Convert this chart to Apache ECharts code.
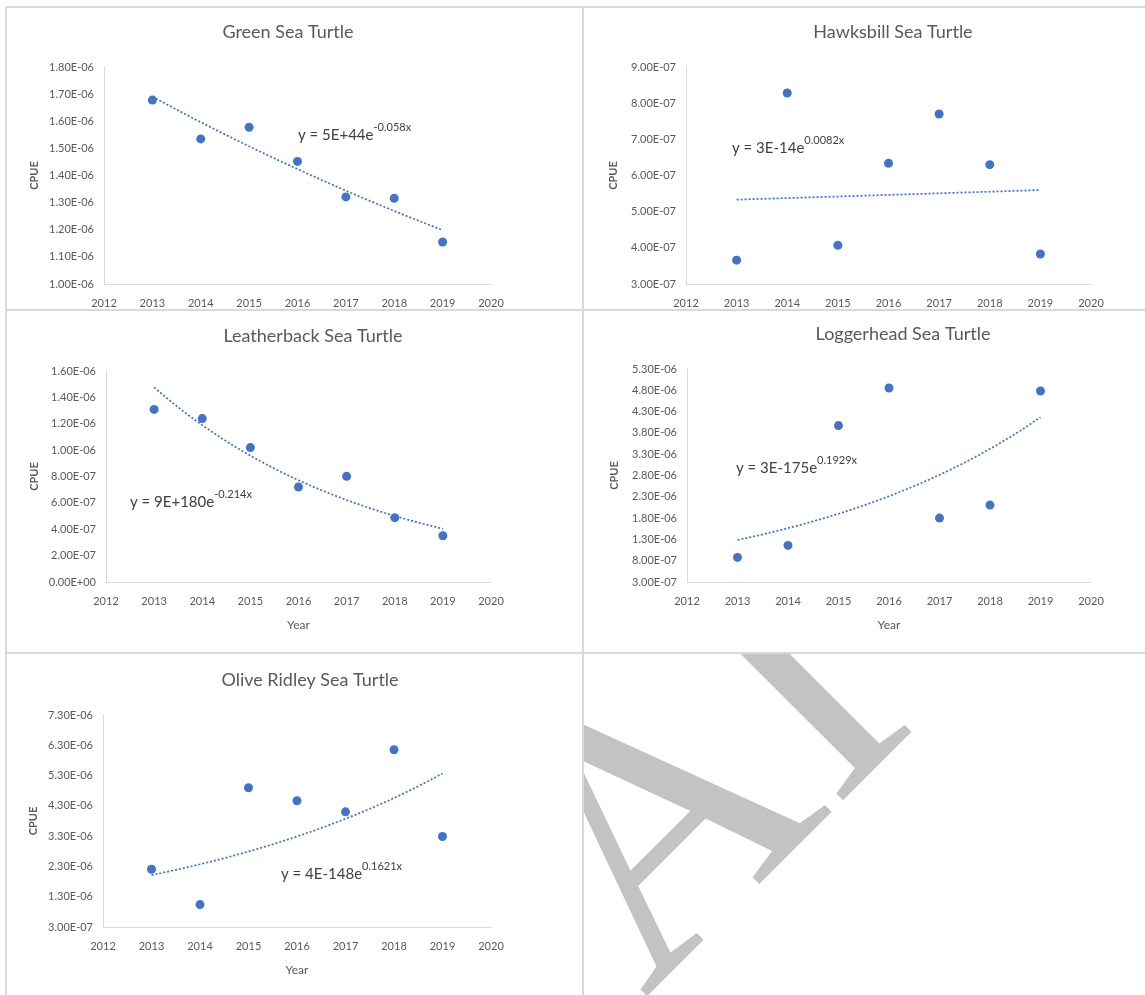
<!DOCTYPE html>
<html>
<head>
<meta charset="utf-8">
<title>Sea Turtle CPUE</title>
<script src="https://cdn.jsdelivr.net/npm/echarts@6/dist/echarts.min.js"></script>
<style>
  html, body { margin: 0; padding: 0; background: #ffffff; }
  #chart { position: absolute; left: 0; top: 0; width: 1145px; height: 995px; }
  #mark { position: absolute; left: 584px; top: 654px; width: 561px; height: 341px; overflow: hidden; }
</style>
</head>
<body>
<div id="chart"></div>
<div id="mark"></div>
<script>
// ---- data ----
const years = [2013, 2014, 2015, 2016, 2017, 2018, 2019];
const yearTicks = [2012, 2013, 2014, 2015, 2016, 2017, 2018, 2019, 2020];

const greenCPUE       = [1.678e-6, 1.535e-6, 1.578e-6, 1.452e-6, 1.321e-6, 1.316e-6, 1.155e-6];
const hawksbillCPUE   = [3.66e-7, 8.28e-7, 4.07e-7, 6.34e-7, 7.70e-7, 6.30e-7, 3.83e-7];
const leatherbackCPUE = [1.309e-6, 1.239e-6, 1.019e-6, 7.20e-7, 8.01e-7, 4.88e-7, 3.51e-7];
const loggerheadCPUE  = [8.78e-7, 1.159e-6, 3.972e-6, 4.855e-6, 1.80e-6, 2.105e-6, 4.784e-6];
const oliveRidleyCPUE = [2.207e-6, 1.039e-6, 4.897e-6, 4.467e-6, 4.103e-6, 6.154e-6, 3.287e-6];

const greenTicks       = [1.0e-6, 1.1e-6, 1.2e-6, 1.3e-6, 1.4e-6, 1.5e-6, 1.6e-6, 1.7e-6, 1.8e-6];
const hawksbillTicks   = [3.0e-7, 4.0e-7, 5.0e-7, 6.0e-7, 7.0e-7, 8.0e-7, 9.0e-7];
const leatherbackTicks = [0, 2.0e-7, 4.0e-7, 6.0e-7, 8.0e-7, 1.0e-6, 1.2e-6, 1.4e-6, 1.6e-6];
const loggerheadTicks  = [3.0e-7, 8.0e-7, 1.3e-6, 1.8e-6, 2.3e-6, 2.8e-6, 3.3e-6, 3.8e-6, 4.3e-6, 4.8e-6, 5.3e-6];
const oliveRidleyTicks = [3.0e-7, 1.3e-6, 2.3e-6, 3.3e-6, 4.3e-6, 5.3e-6, 6.3e-6, 7.3e-6];

const titles = ['Green Sea Turtle', 'Hawksbill Sea Turtle', 'Leatherback Sea Turtle',
                'Loggerhead Sea Turtle', 'Olive Ridley Sea Turtle'];
const equationBase = ['y = 5E+44e', 'y = 3E-14e', 'y = 9E+180e', 'y = 3E-175e', 'y = 4E-148e'];
const equationExp  = ['-0.058x', '0.0082x', '-0.214x', '0.1929x', '0.1621x'];

// ---- layout and style ----
const FONT = 'Lato, "Open Sans", sans-serif';
const TEXT = '#595959';
const LINE = '#d9d9d9';
const BLUE = '#4472c4';

const panels = [
  { values: greenCPUE,       ticks: greenTicks,       grid: { left: 104, top: 67,  width: 387, height: 217 }, title: [288, 32],  eq: [298, 132], nameGap: 64, year: false },
  { values: hawksbillCPUE,   ticks: hawksbillTicks,   grid: { left: 686, top: 67,  width: 405, height: 217 }, title: [893, 32],  eq: [732, 145], nameGap: 67, year: false },
  { values: leatherbackCPUE, ticks: leatherbackTicks, grid: { left: 106, top: 371, width: 385, height: 211 }, title: [313, 336], eq: [130, 499], nameGap: 66, year: true },
  { values: loggerheadCPUE,  ticks: loggerheadTicks,  grid: { left: 687, top: 369, width: 404, height: 213 }, title: [903, 334], eq: [736, 465], nameGap: 67, year: true },
  { values: oliveRidleyCPUE, ticks: oliveRidleyTicks, grid: { left: 103, top: 715, width: 388, height: 212 }, title: [310, 680], eq: [281, 871], nameGap: 64, year: true }
];

// Excel-style scientific labels, e.g. 1.80E-06
function sci(v) {
  const parts = Number(v).toExponential(2).split('e');
  const n = parseInt(parts[1], 10);
  return parts[0] + 'E' + (n < 0 ? '-' : '+') + String(Math.abs(n)).padStart(2, '0');
}

// least-squares exponential trend y = a * e^(b x)
function expTrend(xs, ys) {
  const x0 = xs.reduce((s, v) => s + v, 0) / xs.length;
  const ls = ys.map(Math.log);
  const l0 = ls.reduce((s, v) => s + v, 0) / ls.length;
  let sxy = 0, sxx = 0;
  xs.forEach((x, i) => { sxy += (x - x0) * (ls[i] - l0); sxx += (x - x0) * (x - x0); });
  const b = sxy / sxx;
  const pts = [];
  for (let k = 0; k <= 60; k++) {
    const x = xs[0] + (xs[xs.length - 1] - xs[0]) * k / 60;
    pts.push([x, Math.exp(l0 + b * (x - x0))]);
  }
  return pts;
}

const grids = [], xAxes = [], yAxes = [], series = [], graphics = [];

panels.forEach((p, i) => {
  grids.push(Object.assign({ containLabel: false }, p.grid));
  xAxes.push({
    type: 'value', gridIndex: i,
    min: yearTicks[0], max: yearTicks[yearTicks.length - 1], interval: 1,
    axisLine: { show: true, onZero: false, lineStyle: { color: LINE, width: 1 } },
    axisTick: { show: false },
    splitLine: { show: false },
    axisLabel: { color: TEXT, fontSize: 11, fontFamily: FONT, margin: 14, formatter: v => String(v) },
    name: p.year ? 'Year' : '',
    nameLocation: 'middle', nameGap: 37,
    nameTextStyle: { color: TEXT, fontSize: 12, fontFamily: FONT }
  });
  yAxes.push({
    type: 'value', gridIndex: i,
    min: p.ticks[0], max: p.ticks[p.ticks.length - 1],
    axisLine: { show: true, onZero: false, lineStyle: { color: LINE, width: 1 } },
    axisTick: { show: false },
    splitLine: { show: false },
    axisLabel: { color: TEXT, fontSize: 11, fontFamily: FONT, margin: 10,
                 customValues: p.ticks, formatter: sci },
    name: 'CPUE', nameLocation: 'middle', nameGap: p.nameGap,
    nameTextStyle: { color: TEXT, fontSize: 11, fontWeight: 'bold', fontFamily: FONT }
  });
  series.push({
    type: 'line', xAxisIndex: i, yAxisIndex: i,
    data: expTrend(years, p.values),
    showSymbol: false, smooth: false, silent: true,
    lineStyle: { color: BLUE, width: 1.75, type: [2, 2] },
    z: 1
  });
  series.push({
    type: 'scatter', xAxisIndex: i, yAxisIndex: i,
    data: years.map((y, k) => [y, p.values[k]]),
    symbol: 'circle', symbolSize: 9,
    itemStyle: { color: BLUE, opacity: 1 },
    z: 2
  });
  graphics.push({
    type: 'text', x: p.title[0], y: p.title[1],
    style: { text: titles[i], font: '18px ' + FONT, fill: TEXT, align: 'center', verticalAlign: 'middle' }
  });
  graphics.push({
    type: 'text', x: p.eq[0], y: p.eq[1],
    style: {
      text: '{m|' + equationBase[i] + '}{s|' + equationExp[i] + '}',
      align: 'left', verticalAlign: 'middle',
      rich: {
        m: { fontSize: 15, fontFamily: FONT, fill: '#404040', verticalAlign: 'bottom', lineHeight: 21 },
        s: { fontSize: 11, fontFamily: FONT, fill: '#404040', verticalAlign: 'top', lineHeight: 12 }
      }
    }
  });
});

// panel frame lines
[
  [6, 7, 1145, 7], [6, 7, 6, 995], [583, 7, 583, 995],
  [6, 310, 1145, 310], [6, 653, 1145, 653]
].forEach(l => graphics.push({
  type: 'line', shape: { x1: l[0], y1: l[1], x2: l[2], y2: l[3] },
  style: { stroke: LINE, lineWidth: 2 }, silent: true
}));

const chart = echarts.init(document.getElementById('chart'), null, { renderer: 'canvas' });
chart.setOption({
  backgroundColor: '#ffffff',
  animation: false,
  grid: grids, xAxis: xAxes, yAxis: yAxes, series: series, graphic: graphics
});

// large rotated lettering in the empty sixth cell
const mark = echarts.init(document.getElementById('mark'), null, { renderer: 'canvas' });
mark.setOption({
  animation: false,
  graphic: [{
    type: 'text', x: -8, y: 276, rotation: Math.PI / 4,
    style: { text: 'AI', fontSize: 370, fontFamily: '"Times New Roman", "Liberation Serif", Tinos, serif',
             fill: '#c3c3c3', align: 'left', verticalAlign: 'middle' },
    silent: true
  }]
});
</script>
</body>
</html>
